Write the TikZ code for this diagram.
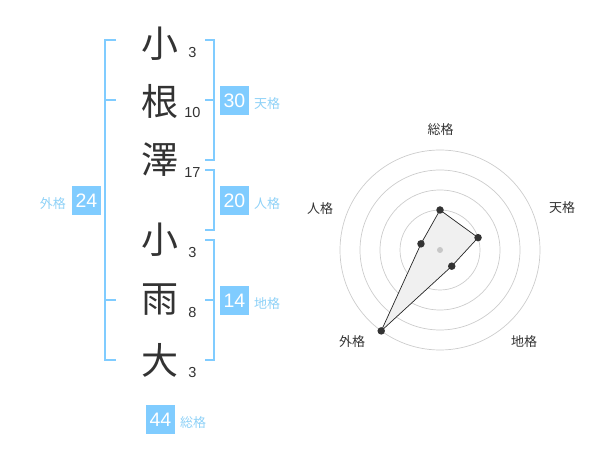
\documentclass[tikz,border=0pt]{standalone}
\usepackage{fontspec}
\setmainfont{Noto Sans CJK JP}
\newfontfamily\digitfont{Liberation Sans}
\usetikzlibrary{calc}
\definecolor{kakusky}{HTML}{80CCFF}
\definecolor{kakulbl}{HTML}{8ED1F7}
\definecolor{kanjigray}{HTML}{333333}
\tikzset{
  kakubox/.style={fill=kakusky,text=white,minimum size=29pt,inner sep=0pt,font=\digitfont\fontsize{19.5}{19.5}\selectfont},
  kakuname/.style={text=kakulbl,inner sep=0pt,font=\fontsize{13}{13}\selectfont},
  bracket/.style={draw=kakusky,line width=2pt},
  kanji/.style={text=kanjigray,inner sep=0pt,font=\fontsize{37}{37}\selectfont},
  strokes/.style={text=kanjigray,inner sep=0pt,font=\digitfont\fontsize{14.5}{14.5}\selectfont},
  ring/.style={draw=black!20,line width=0.7pt},
  dot/.style={circle,fill=kanjigray,inner sep=0pt,minimum size=7.5pt},
  axisname/.style={text=kanjigray,inner sep=0pt,font=\fontsize{13}{13}\selectfont}
}

\begin{document}
\begin{tikzpicture}[x=1pt,y=-1pt]
\useasboundingbox (0,0) rectangle (600,470);
\coordinate (brL) at (105,0);
\coordinate (brR) at (214,0);
\coordinate (ctr) at (440,250);

\node[kanji] (k1) at (160,44) {小};
\node[kanji] (k2) at (160,101) {根};
\node[kanji] (k3) at (160,160) {澤};
\node[kanji] (k4) at (160,240) {小};
\node[kanji] (k5) at (160,300) {雨};
\node[kanji] (k6) at (160,360) {大};

\node[strokes] (s1) at (192.5,52.5) {3};
\node[strokes] (s2) at (192.5,112.5) {10};
\node[strokes] (s3) at (192.5,173) {17};
\node[strokes] (s4) at (192.5,252.5) {3};
\node[strokes] (s5) at (192.5,312.5) {8};
\node[strokes] (s6) at (192.5,372.5) {3};

\draw[bracket] ($(brL)+(11,40)$)--($(brL)+(0,40)$)--($(brL)+(0,360)$)--($(brL)+(11,360)$);
\draw[bracket] ($(brL)+(0,100)$)--+(11,0);
\draw[bracket] ($(brL)+(0,300)$)--+(11,0);

\draw[bracket] ($(brR)+(-9,40)$)--($(brR)+(0,40)$)--($(brR)+(0,160)$)--($(brR)+(-9,160)$);
\draw[bracket] ($(brR)+(0,100)$)--+(-9,0);
\draw[bracket] ($(brR)+(-9,170)$)--($(brR)+(0,170)$)--($(brR)+(0,230)$)--($(brR)+(-9,230)$);
\draw[bracket] ($(brR)+(-9,240)$)--($(brR)+(0,240)$)--($(brR)+(0,360)$)--($(brR)+(-9,360)$);
\draw[bracket] ($(brR)+(0,300)$)--+(-9,0);

\node[kakubox] (ten) at (234.5,100.5) {30};
\node[kakuname,anchor=west] (ten_l) at (254,104) {天格};
\node[kakubox] (jin) at (234.5,200.5) {20};
\node[kakuname,anchor=west] (jin_l) at (254,204) {人格};
\node[kakubox] (chi) at (234.5,300.5) {14};
\node[kakuname,anchor=west] (chi_l) at (254,304) {地格};
\node[kakubox] (gai) at (86.5,200.5) {24};
\node[kakuname,anchor=east] (gai_l) at (66,204) {外格};
\node[kakubox] (sou) at (160.5,419.5) {44};
\node[kakuname,anchor=west] (sou_l) at (180,423) {総格};

\draw[ring] (ctr) circle (20);
\draw[ring] (ctr) circle (40);
\draw[ring] (ctr) circle (60);
\draw[ring] (ctr) circle (80);
\draw[ring] (ctr) circle (100);

\coordinate (p_sou) at ($(ctr)+(-90:40)$);
\coordinate (p_ten) at ($(ctr)+(-18:40)$);
\coordinate (p_chi) at ($(ctr)+(54:20)$);
\coordinate (p_gai) at ($(ctr)+(126:100)$);
\coordinate (p_jin) at ($(ctr)+(198:20)$);

\draw[black!85,fill=black!6,line width=0.7pt] (p_sou)--(p_ten)--(p_chi)--(p_gai)--(p_jin)--cycle;
\node[circle,fill=black!22,inner sep=0pt,minimum size=6pt] (hub) at (ctr) {};

\node[dot] (d_sou) at (p_sou) {};
\node[dot] (d_ten) at (p_ten) {};
\node[dot] (d_chi) at (p_chi) {};
\node[dot] (d_gai) at (p_gai) {};
\node[dot] (d_jin) at (p_jin) {};

\node[axisname] (a_sou) at (440.5,130) {総格};
\node[axisname] (a_ten) at (562,208) {天格};
\node[axisname] (a_jin) at (320,209) {人格};
\node[axisname] (a_gai) at (352,342) {外格};
\node[axisname] (a_chi) at (524,342) {地格};
\end{tikzpicture}
\end{document}
